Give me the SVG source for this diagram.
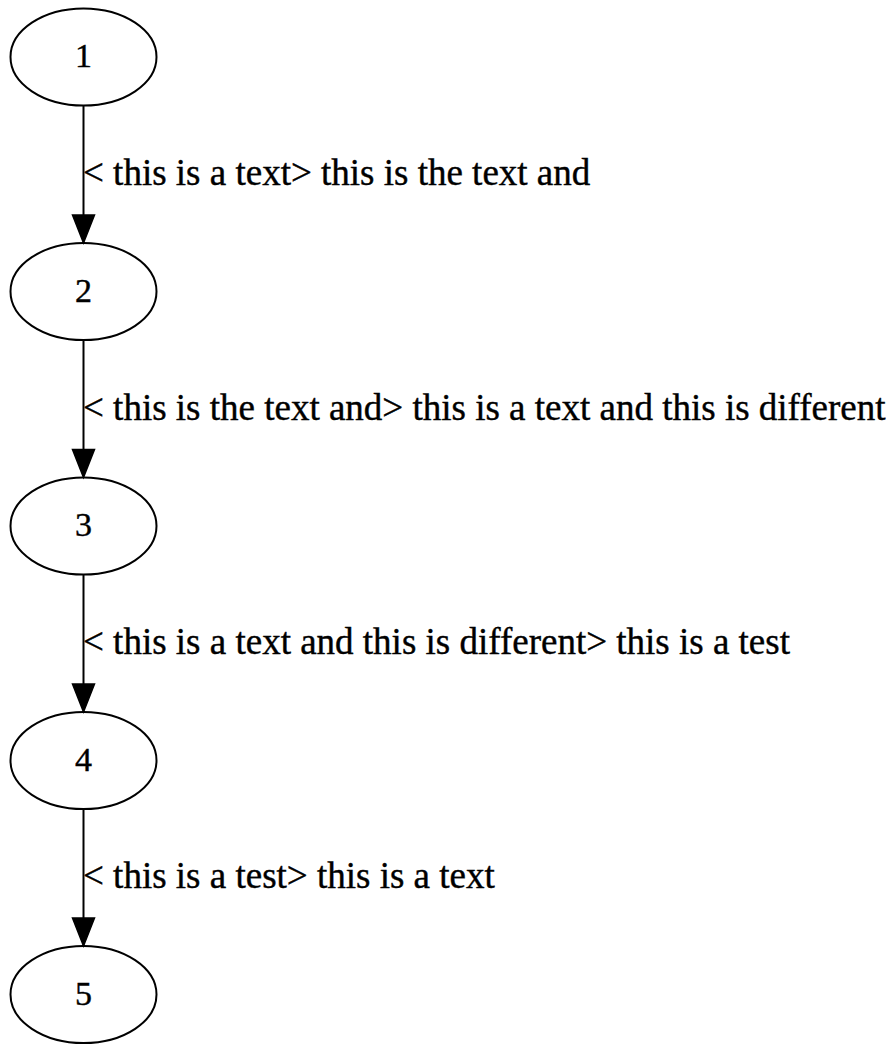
<svg xmlns="http://www.w3.org/2000/svg" width="893" height="1044" viewBox="0 0 893 1044">
  <style>
    .node ellipse { fill: none; stroke: #000; stroke-width: 2; }
    .node text { font-family: "Liberation Serif", "Times New Roman", serif; font-size: 34px; fill: #000; stroke: #000; stroke-width: 0.4; text-anchor: middle; }
    .edge line { stroke: #000; stroke-width: 2; }
    .edge polygon { fill: #000; stroke: #000; stroke-width: 1.5; }
    .edge text { font-family: "Liberation Serif", "Times New Roman", serif; font-size: 37px; fill: #000; stroke: #000; stroke-width: 0.4; }
  </style>
  <rect width="893" height="1044" fill="#fff"/>

  <!-- connectors: vertical chain 1 -> 2 -> 3 -> 4 -> 5 -->
  <g id="edges">
    <g class="edge" id="e1-2">
      <line x1="83.5" y1="105.5" x2="83.5" y2="216"/>
      <polygon points="72.5,215 94.5,215 83.5,243"/>
      <text x="83" y="185">&lt; this is a text&gt; this is the text and</text>
    </g>
    <g class="edge" id="e2-3">
      <line x1="83.5" y1="340" x2="83.5" y2="450"/>
      <polygon points="72.5,449.5 94.5,449.5 83.5,477.5"/>
      <text x="83" y="419.5">&lt; this is the text and&gt; this is a text and this is different</text>
    </g>
    <g class="edge" id="e3-4">
      <line x1="83.5" y1="574.5" x2="83.5" y2="685"/>
      <polygon points="72.5,684 94.5,684 83.5,712"/>
      <text x="83" y="654">&lt; this is a text and this is different&gt; this is a test</text>
    </g>
    <g class="edge" id="e4-5">
      <line x1="83.5" y1="809" x2="83.5" y2="919"/>
      <polygon points="72.5,918 94.5,918 83.5,946"/>
      <text x="83" y="888">&lt; this is a test&gt; this is a text</text>
    </g>
  </g>

  <!-- nodes -->
  <g class="node" id="n1">
    <ellipse cx="83.5" cy="57" rx="73" ry="48.5"/>
    <text x="83.5" y="67">1</text>
  </g>
  <g class="node" id="n2">
    <ellipse cx="83.5" cy="291.5" rx="73" ry="48.5"/>
    <text x="83.5" y="301.5">2</text>
  </g>
  <g class="node" id="n3">
    <ellipse cx="83.5" cy="526" rx="73" ry="48.5"/>
    <text x="83.5" y="536">3</text>
  </g>
  <g class="node" id="n4">
    <ellipse cx="83.5" cy="760.5" rx="73" ry="48.5"/>
    <text x="83.5" y="770.5">4</text>
  </g>
  <g class="node" id="n5">
    <ellipse cx="83.5" cy="994.5" rx="73" ry="48.5"/>
    <text x="83.5" y="1004.5">5</text>
  </g>
</svg>
